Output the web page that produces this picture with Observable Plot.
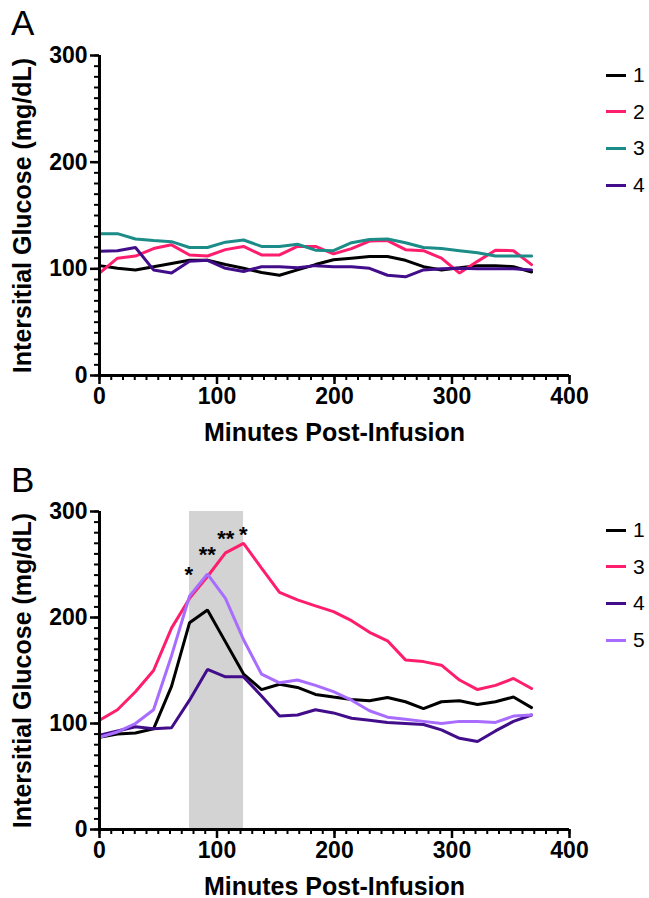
<!DOCTYPE html>
<html><head><meta charset="utf-8">
<script src="https://cdn.jsdelivr.net/npm/d3@7"></script>
<script src="https://cdn.jsdelivr.net/npm/@observablehq/plot@0.6"></script>
<style>
body{margin:0;background:#fff;font-family:"Liberation Sans",Arial,sans-serif;}
#root{position:relative;width:649px;height:898px;overflow:hidden;background:#fff}
.panel{position:absolute;left:0;width:649px;height:449px}
.tag{position:absolute;left:11px;font-size:35px;line-height:1;color:#000}
.legend{position:absolute;left:606px}
.item{position:absolute;left:0;display:flex;align-items:center;height:24px;transform:translateY(-12px);white-space:nowrap}
.sw{width:20px;height:3px;margin-right:7px}
.lab{font-size:21px;color:#000}
</style></head>
<body><div id="root"></div>
<script>
// ---- data ----
// sample times (minutes)
const minutes = [0,15.3,30.6,46,61.3,76.6,91.9,107.2,122.6,137.9,153.2,168.5,183.8,199.1,214.5,229.8,245.1,260.4,275.7,291,306.4,321.7,337,352.3,367.7];

// Panel A
const seriesA = ["1","2","3","4"];
const colorsA = ["#000000","#ff1e6e","#1b8c88","#420d8a"];
const a1 = [103,100.5,99,102,105,108,108,104,100.5,96.5,94,99,104,108.5,110,111.5,111.5,108,102,99,101,103,103,102,97];
const a2 = [96,110,112,119,122.5,113,112,118,121,113,113,121,121,114,119,126,126.5,118,117,110,96,107,117.5,117,104];
const a3 = [133,133,128,126.5,125.5,120,120,125,127,121,121,123,117.5,117,124.5,127.5,128,124.5,120,119,117,115,112,112,112];
const a4 = [116.5,117,120,99,96,107,108,100.5,97.5,102,102,101,103,102,102,100.5,94,92.5,99,100,100.5,100,100,100,99];

// Panel B
const seriesB = ["1","3","4","5"];
const colorsB = ["#000000","#ff1e6e","#420d8a","#a86cff"];
const b1 = [87,90,91,95,135,195,207,177,146.6,132,137,134,127.4,125,122.7,121.4,124.6,120.5,114,120.5,121.4,118,120.5,125,115];
const b3 = [103,113,130,150,190,218,238.7,261,270,246.6,223.6,216.6,211,205.6,197,186,178,160,158.4,155,141,132,136,142.5,133];
const b4 = [89,93,97,95,96,122,151,144,144,126,107,108,113,110,105,103,101,100,99,94,86,83,93,102,108];
const b5 = [87,92,100,113,164,220,241,218,179,146.6,138.4,141,136,130,122,112,106,104,102,100,102,102,101,107,108];

// infusion window (shaded) and significance markers
const shade = [{start:76.6, end:122.6}];
const starMinutes = [76, 91.7, 107.4, 122.3];
const starLevels = [246, 265, 279.5, 284];
const starLabels = ["*","**","**","*"];

// axes
const xTicks = [0,100,200,300,400];
const yTicks = [0,100,200,300];
const xMinor = [0,10,20,30,40,50,60,70,80,90,100,110,120,130,140,150,160,170,180,190,200,210,220,230,240,250,260,270,280,290,300,310,320,330,340,350,360,370,380,390,400];
const yMinor = [0,10,20,30,40,50,60,70,80,90,100,110,120,130,140,150,160,170,180,190,200,210,220,230,240,250,260,270,280,290,300];
const xTitle = "Minutes Post-Infusion";
const yTitle = "Intersitial Glucose (mg/dL)";

// ---- build ----
const FONT = '"Liberation Sans", Arial, sans-serif';
function rows(names, arrays){
  const out = [];
  names.forEach((n,i)=>arrays[i].forEach((v,j)=>out.push({minute:minutes[j], value:v, series:n})));
  return out;
}
function panel({names, colors, data, marginTop, marginBottom, extra=[], over=[]}){
  return Plot.plot({
    width:649, height:449, marginLeft:99, marginRight:80, marginTop, marginBottom,
    x:{domain:[0,400], axis:null},
    y:{domain:[0,300], axis:null},
    color:{domain:names, range:colors},
    style:{fontFamily:FONT, background:"transparent", color:"#000", overflow:"visible"},
    marks:[
      ...extra,
      Plot.line(data, {x:"minute", y:"value", z:"series", stroke:"series", strokeWidth:3, strokeLinejoin:"miter"}),
      ...over,
      Plot.axisY({ticks:yMinor, tickSize:5, text:null, label:null, strokeWidth:2}),
      Plot.axisX({ticks:xMinor, tickSize:5, text:null, label:null, strokeWidth:2}),
      Plot.axisY({ticks:yTicks, tickSize:9, tickPadding:3, fontSize:23, fontWeight:"bold", strokeWidth:2.5, label:null, tickFormat:d=>String(d), fill:"#000"}),
      Plot.axisX({ticks:xTicks, tickSize:9, tickPadding:3, fontSize:23, fontWeight:"bold", strokeWidth:2.5, label:null, tickFormat:d=>String(d), fill:"#000"}),
      Plot.ruleX([0], {y1:0, y2:300, strokeWidth:3, stroke:"#000"}),
      Plot.ruleY([0], {x1:0, x2:400, strokeWidth:3, stroke:"#000"}),
      Plot.text([xTitle], {text:d=>d, frameAnchor:"bottom", dy:57, fontSize:25, fontWeight:"bold", fill:"#000", lineAnchor:"middle", textAnchor:"middle"}),
      Plot.text([yTitle], {text:d=>d, frameAnchor:"left", dx:-77, rotate:-90, fontSize:25, fontWeight:"bold", fill:"#000", lineAnchor:"middle", textAnchor:"middle"})
    ]
  });
}

const root = document.getElementById("root");
function place(node, top){ const d=document.createElement("div"); d.className="panel"; d.style.top=top+"px"; d.appendChild(node); root.appendChild(d); }

place(panel({names:seriesA, colors:colorsA, data:rows(seriesA,[a1,a2,a3,a4]), marginTop:55, marginBottom:74}), 0);

const stars = starMinutes.map((m,i)=>({minute:m, level:starLevels[i], label:starLabels[i]}));
place(panel({names:seriesB, colors:colorsB, data:rows(seriesB,[b1,b3,b4,b5]), marginTop:62, marginBottom:69,
  extra:[Plot.rect(shade, {x1:"start", x2:"end", y1:0, y2:300, fill:"#d3d3d3"})],
  over:[Plot.text(stars, {x:"minute", y:"level", text:"label", fontSize:22, fontWeight:"bold", fill:"#000", dy:6, lineAnchor:"middle"})]
}), 449);

function tag(t, top){ const d=document.createElement("div"); d.className="tag"; d.style.top=top+"px"; d.textContent=t; root.appendChild(d); }
tag("A", 5); tag("B", 462);

function legend(names, colors, top){
  const L=document.createElement("div"); L.className="legend"; L.style.top=top+"px";
  names.forEach((n,i)=>{
    const it=document.createElement("div"); it.className="item"; it.style.top=(i*36.7)+"px";
    const sw=document.createElement("div"); sw.className="sw"; sw.style.background=colors[i];
    const lb=document.createElement("span"); lb.className="lab"; lb.textContent=n;
    it.appendChild(sw); it.appendChild(lb); L.appendChild(it);
  });
  root.appendChild(L);
}
legend(seriesA, colorsA, 75);
legend(seriesB, colorsB, 530);
</script></body></html>
